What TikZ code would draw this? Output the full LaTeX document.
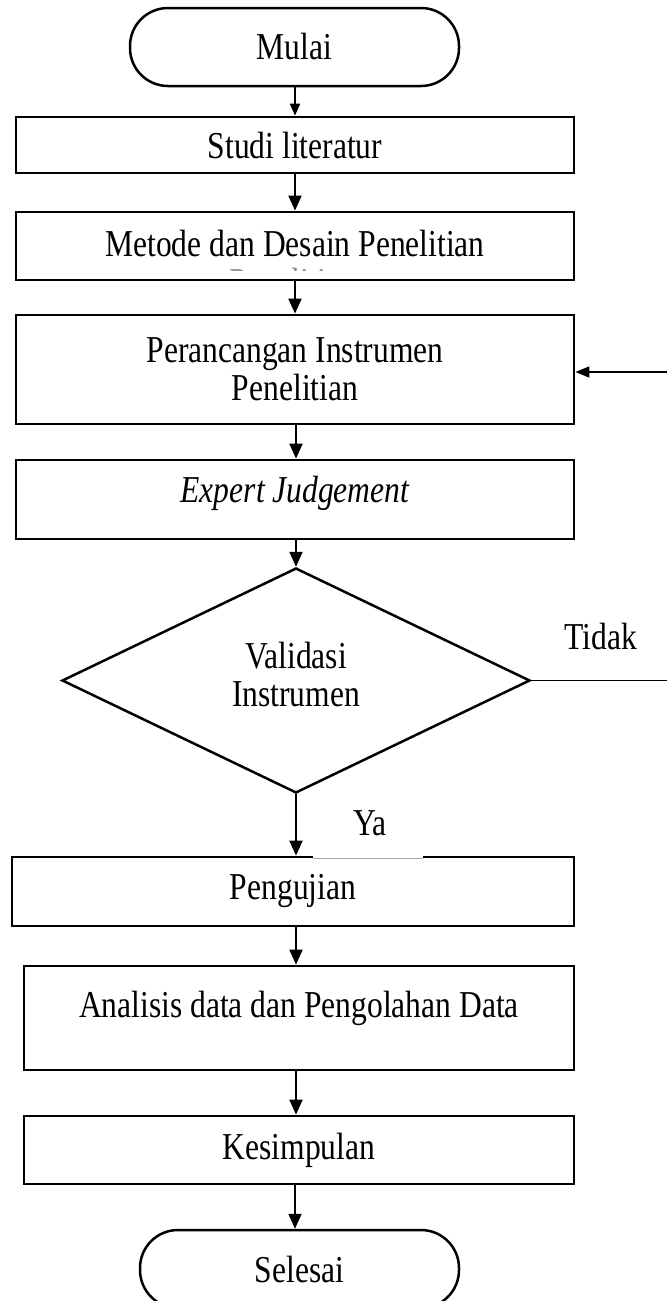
\documentclass[tikz,border=0pt]{standalone}
\usepackage{fontspec}
\setmainfont[FakeStretch=0.83]{Liberation Serif}
\usetikzlibrary{shapes.geometric,arrows.meta}
\tikzset{
  box/.style={draw, rectangle, line width=2.8pt, inner sep=0pt, align=center},
  term/.style={draw, rectangle, rounded corners=38pt, line width=2.5pt, inner sep=0pt},
  lbl/.style={font=\fontsize{38}{38}\selectfont, inner sep=0pt, align=center},
  arr/.style={line width=2pt, -{Triangle[length=15pt,width=13pt]}},
  plainline/.style={line width=1.7pt},
}
\begin{document}
\begin{tikzpicture}[x=1pt,y=-1pt]
\useasboundingbox (0,0) rectangle (667,1301);
\clip (0,0) rectangle (667,1301);
\coordinate (col) at (295,0);
\coordinate (redge) at (667,0);
\coordinate (fb) at (667,372);

% terminals
\node[term, lbl, minimum width=329pt, minimum height=78pt] (mulai) at (294.5,47) {Mulai};
\node[term, lbl, minimum width=319pt, minimum height=78pt] (selesai) at (299.5,1269) {Selesai};

% process boxes
\node[box, lbl, minimum width=558pt, minimum height=56pt] (studi) at (295,145) {Studi literatur};
\node[box, lbl, minimum width=558pt, minimum height=68pt] (metode) at (295,246) {};
\node[lbl] (tmetode) at (295,243) {Metode dan Desain Penelitian};
\begin{scope}
  \clip (200,266.5) rectangle (400,270);
  \node[lbl, text=black!45] (ghost) at (293,281) {Penelitian};
\end{scope}
\node[box, lbl, minimum width=558pt, minimum height=109pt] (peran) at (295,369.5) {Perancangan Instrumen\\Penelitian};
\node[box, minimum width=558pt, minimum height=79pt] (expert) at (295,499.5) {};
\node[lbl, font=\fontsize{38}{38}\selectfont\itshape] (texpert) at (295,493) {Expert Judgement};

% decision
\node[draw, diamond, line width=2.5pt, inner sep=0pt, aspect=2.08,
      minimum width=468pt, minimum height=225pt] (val) at (296,680.5) {};
\node[lbl] (tval) at (296,674) {Validasi\\Instrumen};

\node[box, lbl, minimum width=562pt, minimum height=69pt] (peng) at (293,891.5) {Pengujian};
\node[box, minimum width=550pt, minimum height=104pt] (ana) at (299,1018) {};
\node[lbl] (tana) at (299,1008) {Analisis data dan Pengolahan Data};
\node[box, lbl, minimum width=550pt, minimum height=68pt] (kes) at (299,1150) {Kesimpulan};

% gap in top border of Pengujian
\fill[white] (313,853) rectangle (423,861);
\draw[black!35, line width=0.6pt] (313,858) -- (423,858);

% labels
\node[lbl] (ya) at (370,823) {Ya};
\node[lbl] (tidak) at (601,636) {Tidak};

% connectors
\draw[arr, -{Triangle[length=12pt,width=10pt]}] (mulai.south -| col) -- (studi.north -| col);
\draw[arr] (studi.south -| col) -- (metode.north -| col);
\draw[arr] (metode.south -| col) -- (peran.north -| col);
\draw[arr] (peran.south -| val.north) -- (expert.north -| val.north);
\draw[arr] (expert.south -| val.north) -- (val.north);
\draw[arr] (val.south) -- (peng.north -| val.south);
\draw[arr] (peng.south -| val.south) -- (ana.north -| val.south);
\draw[arr] (ana.south -| val.south) -- (kes.north -| val.south);
\draw[arr] (kes.south -| col) -- (selesai.north -| col);
\draw[plainline] (val.east) -- (val.east -| redge);
\draw[plainline, -{Triangle[length=14pt,width=11pt]}] (fb) -- (peran.east |- fb);
\end{tikzpicture}
\end{document}
